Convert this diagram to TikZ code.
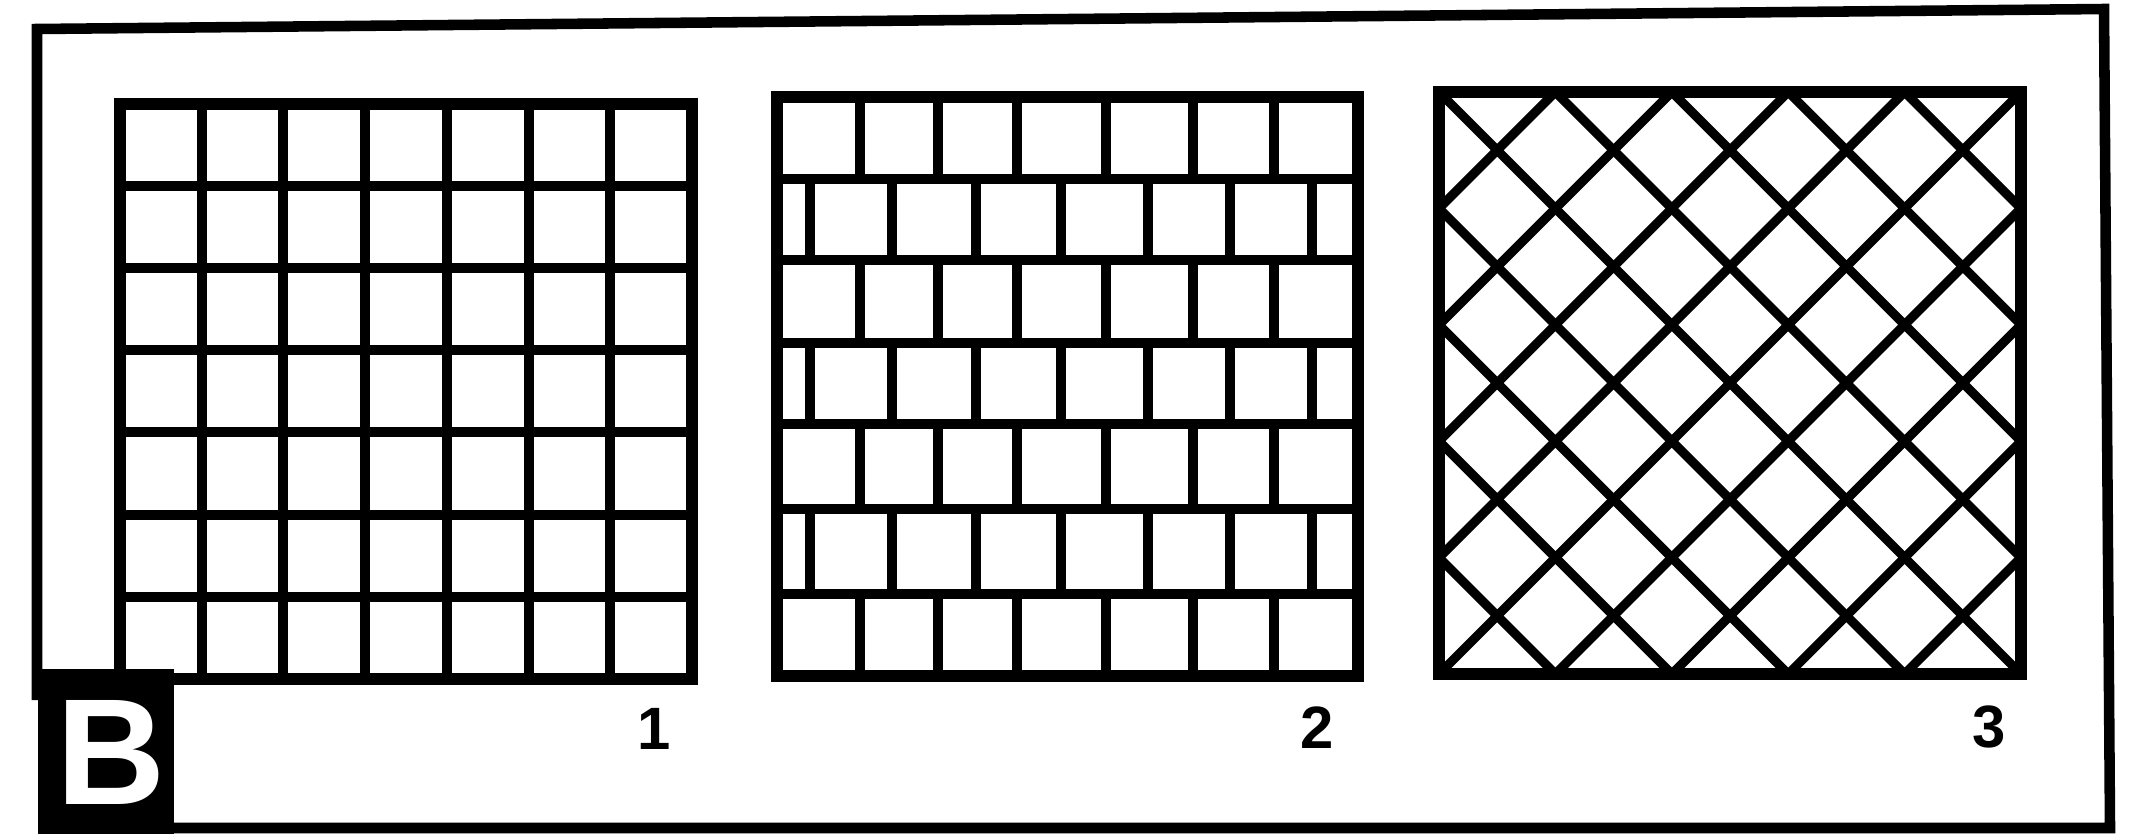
\documentclass[tikz,border=0pt]{standalone}
\usepackage{fontspec}
\setmainfont{Liberation Sans}
\begin{document}
\begin{tikzpicture}[x=0.01cm,y=-0.01cm,
  frameline/.style={line width=3pt, line join=miter},
  gridborder/.style={line width=3.4pt, line join=miter},
  gridline/.style={line width=2.8pt},
  hatchline/.style={line width=2.6pt},
  numlabel/.style={font=\fontsize{17}{20}\selectfont\bfseries, inner sep=0pt},
  markbox/.style={fill=black, inner sep=0pt, minimum width=1.36cm, minimum height=1.65cm, anchor=north west},
  markletter/.style={text=white, inner sep=0pt, font=\fontsize{43}{43}\selectfont\bfseries}]
\useasboundingbox (0,0) rectangle (2130,833);
\fill[white] (0,0) rectangle (2130,833);
% outer frame
\draw[frameline] (173,828) -- (2110,828) -- (2104,9) -- (37,29) -- (37,700);
% grid 1 : square tiles
\foreach \x in {202,283,365,447,529,610} \draw[gridline] (\x,104) -- (\x,679);
\foreach \y in {186,268,350,432,515,597} \draw[gridline] (120,\y) -- (692,\y);
\draw[gridborder] (120,104) rectangle (692,679);
% grid 2 : brick bond
\foreach \y in {179,260,343,424,509,594} \draw[gridline] (777,\y) -- (1358,\y);
\foreach \ya/\yb in {97/179,260/343,424/509,594/676}
  \foreach \x in {860,938,1017,1106,1193,1274} \draw[gridline] (\x,\ya) -- (\x,\yb);
\foreach \ya/\yb in {179/260,343/424,509/594}
  \foreach \x in {810,892,976,1061,1148,1230,1312} \draw[gridline] (\x,\ya) -- (\x,\yb);
\draw[gridborder] (777,97) rectangle (1358,676);
% grid 3 : diagonal hatch
\begin{scope}
  \clip (1439,92) rectangle (2021,674);
  \foreach \k in {-4,...,4} \draw[hatchline] ({1439+\k*116.4},92) -- ++(600,600);
  \foreach \k in {1,...,9} \draw[hatchline] ({1439+\k*116.4},92) -- ++(-1200,1200);
\end{scope}
\draw[gridborder] (1439,92) rectangle (2021,674);
% labels
\node[numlabel] (lab1) at (654,729) {1};
\node[numlabel] (lab2) at (1317,728) {2};
\node[numlabel] (lab3) at (1989,727) {3};
% B mark
\node[markbox] (bbox) at (37,668) {};
\node[markletter] (bletter) at (111,752) {B};
\end{tikzpicture}
\end{document}
